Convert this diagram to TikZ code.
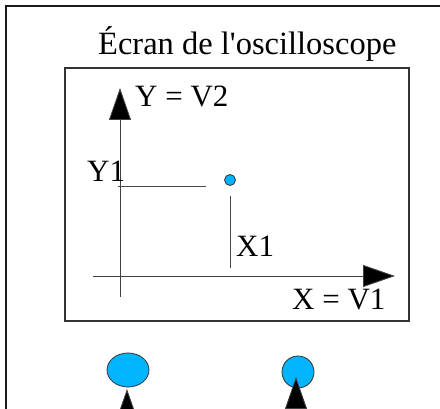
\documentclass[tikz,border=0pt]{standalone}
\usepackage{fontspec}
\setmainfont{Liberation Serif}[Ligatures=TeXOff]
\usetikzlibrary{arrows.meta,shapes.geometric}
\definecolor{dotblue}{HTML}{00B4FF}
\begin{document}
\begin{tikzpicture}[x=1pt,y=-1pt,
  lbl/.style={anchor=base west,inner sep=0pt,font=\fontsize{31}{36}\selectfont},
  axis/.style={draw=black!75,line width=0.9pt,-{Triangle[length=32pt,width=22pt,fill=black]}},
  guide/.style={draw=black!70,line width=0.9pt},
  spot/.style={ellipse,draw=black!80,line width=0.8pt,fill=dotblue,inner sep=0pt}]
\useasboundingbox (0,0) rectangle (440,409);
\clip (0,0) rectangle (440,409);
% outer frame (open on right and bottom)
\draw[line width=1.8pt,black!90] (6,420) -- (6,6) -- (445,6);
\node[lbl,font=\fontsize{32.5}{38}\selectfont] (title) at (98,55) {Écran de l'oscilloscope};
% screen
\draw[line width=1.1pt,black!80] (65,68) rectangle (409,321);
\coordinate (yb) at (120,297);
\coordinate (yt) at (120,88);
\coordinate (xl) at (93,276);
\coordinate (xr) at (395,276);
\draw[axis] (yb) -- (yt);
\draw[axis] (xl) -- (xr);
\node[lbl] (ylab) at (135,107) {Y = V2};
\node[lbl] (xlab) at (292,310) {X = V1};
\node[lbl] (y1) at (87,182) {Y1};
\node[lbl] (x1) at (236,257) {X1};
\coordinate (h1) at (118,186);
\coordinate (h2) at (206,186);
\coordinate (v1) at (230,196);
\coordinate (v2) at (230,268);
\draw[guide] (h1) -- (h2);
\draw[guide] (v1) -- (v2);
\node[spot,minimum width=11pt,minimum height=11pt] (dot) at (230,180) {};
% bottom spots and beams
\node[spot,minimum width=42pt,minimum height=34pt] (sl) at (128,370) {};
\node[spot,minimum width=32pt,minimum height=32pt] (sr) at (298,372) {};
\coordinate (bl) at (127,440);
\coordinate (tl) at (127,389);
\coordinate (br) at (296,440);
\coordinate (tr) at (296,377);
\draw[axis] (bl) -- (tl);
\draw[axis] (br) -- (tr);
\end{tikzpicture}
\end{document}
